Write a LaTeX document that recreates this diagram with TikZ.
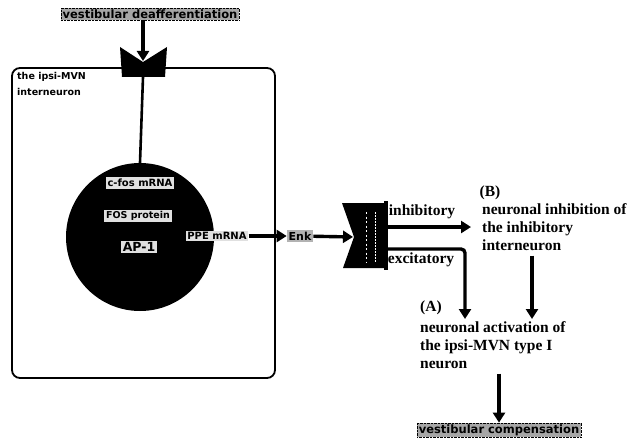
\documentclass[tikz,border=0pt]{standalone}
\usepackage{fontspec}
\setmainfont{Liberation Serif}
\newfontfamily\dvsans{DejaVu Sans}
\usetikzlibrary{arrows.meta}
\begin{document}
\begin{tikzpicture}[x=1pt,y=-1pt,
  arr/.style={line width=3.4pt,-{Triangle[length=10pt,width=12pt]}},
  tagbox/.style={font=\dvsans\bfseries\fontsize{11.5}{13}\selectfont, fill=black!35, draw=black, densely dotted, inner sep=1.6pt},
  ctag/.style={font=\dvsans\bfseries\fontsize{#1}{12}\selectfont, fill=black!12, inner sep=1.8pt},
  rtext/.style={font=\bfseries\fontsize{15.5}{18}\selectfont, align=left, anchor=north west, inner sep=0pt},
  rlab/.style={font=\bfseries\fontsize{15.5}{18}\selectfont, inner sep=0pt},
]
\useasboundingbox (0,0) rectangle (644,441);
% top label and receptor
\node[tagbox] (deaf) at (150,14) {vestibular deafferentiation};
% cell box
\node[draw, line width=1.8pt, rounded corners=8pt, minimum width=263pt, minimum height=310pt, inner sep=0pt] (cell) at (143.5,223) {};
\fill (120,47) -- (143,62) -- (167,47) -- (165,77) -- (122,77) -- cycle;
\coordinate (rtop) at (143,61);
\coordinate (rbot) at (143,77);
\draw[arr] (deaf.south -| rtop) -- (rtop);
\node[font=\dvsans\bfseries\fontsize{9.5}{16}\selectfont, align=left, anchor=north west, inner sep=0pt] (celllab) at (17,72) {the ipsi-MVN\\interneuron};
% nucleus
\node[circle, fill=black, minimum size=148pt, inner sep=0pt] (nuc) at (140,237) {};
\draw[line width=2.6pt] (rbot) -- (nuc.north);
\node[ctag=10] (cfos) at (140,183) {c-fos mRNA};
\node[ctag=9.5] (fos) at (138,216) {FOS protein};
\node[ctag=12.5] (ap) at (139,247) {AP-1};
\node[ctag=10] (ppe) at (217,236) {PPE mRNA};
\node[ctag=11, fill=black!30] (enk) at (300,236) {Enk};
\draw[arr] (ppe) -- (enk);
% receptor 2
\fill (342,203) -- (386,203) -- (386,268) -- (343,268) -- (354,237) -- cycle;
\draw[white, line width=1pt, dash pattern=on 2pt off 2.5pt] (366,212) -- (366,262);
\draw[white, line width=1pt, dash pattern=on 1.5pt off 1.5pt] (375,212) -- (375,262);
\draw[line width=3.5pt] (386,201) -- (386,270);
\coordinate (r2in) at (353,237);
\draw[arr] (enk) -- (r2in);
% inhibitory / excitatory
\coordinate (inhS) at (386,227);
\coordinate (inhE) at (471,227);
\draw[arr] (inhS) -- (inhE);
\node[rlab] (inhlab) at (422,212) {inhibitory};
\coordinate (excS) at (386,249);
\coordinate (excE) at (465,319);
\draw[arr, rounded corners=4pt] (excS) -| (excE);
\node[rlab] (exclab) at (421,260) {excitatory};
% (B)
\node[rlab] (labB) at (490,193) {(B)};
\node[rtext] (txtB) at (482,203) {neuronal inhibition of\\the inhibitory\\interneuron};
\coordinate (Btip) at (532,319);
\draw[arr, shorten <=5pt] (txtB.south -| Btip) -- (Btip);
% (A)
\node[rlab] (labA) at (431,308) {(A)};
\node[rtext] (txtA) at (420,321) {neuronal activation of\\the ipsi-MVN type I\\neuron};
\node[tagbox] (comp) at (499,430) {vestibular compensation};
\draw[arr, shorten <=5pt] (txtA.south -| comp.north) -- (comp.north);
\end{tikzpicture}
\end{document}
